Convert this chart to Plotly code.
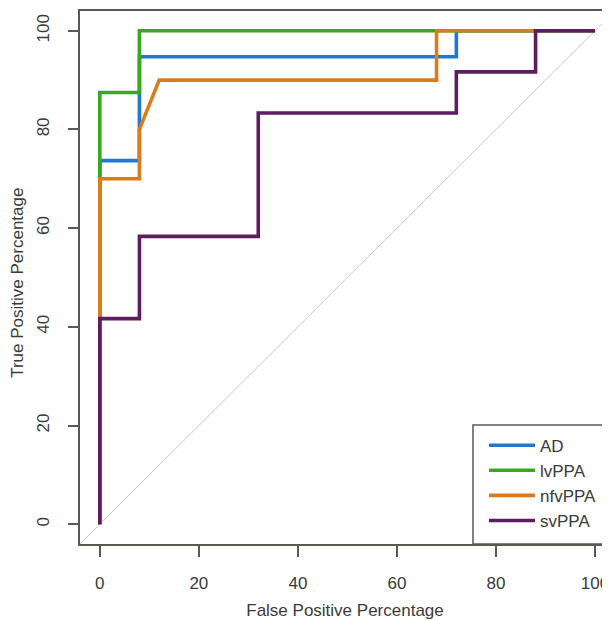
import plotly.graph_objects as go

# ROC curves (False Positive % vs True Positive %)
series_names = ["AD", "lvPPA", "nfvPPA", "svPPA"]

ad_fpr = [0, 0, 8, 8, 72, 72, 100]
ad_tpr = [0, 73.68, 73.68, 94.74, 94.74, 100, 100]

lv_fpr = [0, 0, 8, 8, 100]
lv_tpr = [0, 87.5, 87.5, 100, 100]

nfv_fpr = [0, 0, 8, 8, 12, 68, 68, 100]
nfv_tpr = [0, 70, 70, 80, 90, 90, 100, 100]

sv_fpr = [0, 0, 8, 8, 32, 32, 72, 72, 88, 88, 100]
sv_tpr = [0, 41.67, 41.67, 58.33, 58.33, 83.33, 83.33, 91.67, 91.67, 100, 100]

tick_vals = [0, 20, 40, 60, 80, 100]
x_range = [-4, 103.03]
y_range = [-4, 104]
diag = [-4, 104]

colors = ["#1f78d1", "#3aa81f", "#db7c1c", "#5e1d5f"]
FONT = "Liberation Sans, Arial, sans-serif"
TXT = "#3a3a3a"
AXC = "#555a55"

fig = go.Figure()
fig.add_trace(go.Scatter(x=diag, y=diag, mode="lines",
                         line=dict(color="#c8c8c8", width=1),
                         showlegend=False, hoverinfo="skip"))
for name, fx, ty, c in zip(series_names,
                           [ad_fpr, lv_fpr, nfv_fpr, sv_fpr],
                           [ad_tpr, lv_tpr, nfv_tpr, sv_tpr], colors):
    fig.add_trace(go.Scatter(x=fx, y=ty, mode="lines", name=name,
                             line=dict(color=c, width=3.6)))

# legend frame (right side runs off the picture, as in the original)
fig.add_shape(type="rect", xref="x domain", yref="y domain",
              x0=0.7415, x1=1.2, y0=0, y1=0.2233,
              line=dict(color=AXC, width=1.5), fillcolor="white", layer="below")

# y-axis title as rotated text
fig.add_annotation(text="True Positive Percentage", xref="paper", yref="paper",
                   x=-0.117, y=0.49, xanchor="center", yanchor="middle",
                   textangle=-90, showarrow=False,
                   font=dict(family=FONT, size=17, color=TXT))

fig.update_layout(
    width=602, height=612,
    margin=dict(l=72, r=0, t=3, b=76, autoexpand=False),
    paper_bgcolor="white", plot_bgcolor="white",
    font=dict(family=FONT, size=16, color=TXT),
    showlegend=True,
    legend=dict(x=0.7415, y=0.01, xanchor="left", yanchor="bottom",
                bgcolor="rgba(0,0,0,0)", borderwidth=0,
                font=dict(family=FONT, size=17, color=TXT),
                itemwidth=46, tracegroupgap=0, indentation=11),
    xaxis=dict(range=x_range, tickvals=tick_vals, showgrid=False, zeroline=False,
               automargin=False,
               showline=True, mirror=True, linecolor=AXC, linewidth=1.5,
               ticks="outside", ticklen=11, tickwidth=1.5, tickcolor=AXC,
               ticklabelstandoff=12,
               tickfont=dict(family=FONT, size=17, color=TXT),
               title=dict(text="False Positive Percentage", standoff=14,
                          font=dict(family=FONT, size=17, color=TXT))),
    yaxis=dict(range=y_range, tickvals=tick_vals, showgrid=False, zeroline=False,
               automargin=False,
               showline=True, mirror=False, linecolor=AXC, linewidth=1.5,
               ticks="outside", ticklen=10, tickwidth=1.5, tickcolor=AXC,
               tickangle=-90, ticklabelstandoff=12,
               tickfont=dict(family=FONT, size=17, color=TXT)),
)

fig.write_html("out.html")
